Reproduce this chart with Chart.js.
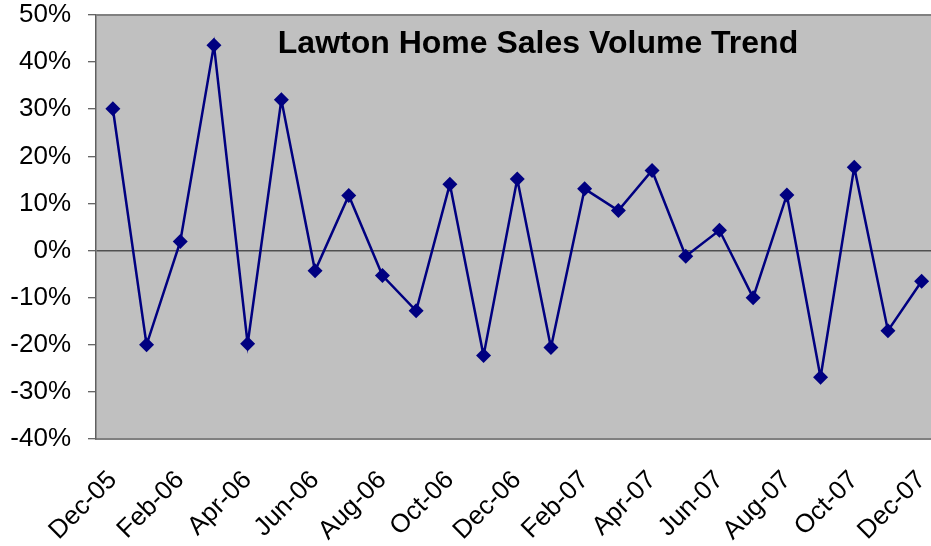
<!DOCTYPE html>
<html>
<head>
<meta charset="utf-8">
<title>Lawton Home Sales Volume Trend</title>
<script src="https://cdn.jsdelivr.net/npm/chart.js@4/dist/chart.umd.min.js"></script>
<style>
    html, body { margin: 0; padding: 0; background: #fff; overflow: hidden; }
    .chart-wrap { position: relative; width: 946px; height: 546px; }
</style>
</head>
<body>
<div class="chart-wrap"><canvas id="salesChart" width="946" height="546"></canvas></div>
<script>
// 月次ラベル
const months = ['Dec-05', 'Jan-06', 'Feb-06', 'Mar-06', 'Apr-06', 'May-06', 'Jun-06', 'Jul-06',
    'Aug-06', 'Sep-06', 'Oct-06', 'Nov-06', 'Dec-06', 'Jan-07', 'Feb-07', 'Mar-07', 'Apr-07',
    'May-07', 'Jun-07', 'Jul-07', 'Aug-07', 'Sep-07', 'Oct-07', 'Nov-07', 'Dec-07'];

// 前月比の変化率 (%)
const volumeChange = [30.1, -20.0, 1.9, 43.6, -19.8, 32.0, -4.3, 11.7, -5.3, -12.8, 14.1, -22.3,
    15.2, -20.6, 13.1, 8.5, 17.0, -1.2, 4.3, -10.0, 11.8, -26.9, 17.7, -17.0, -6.5];

const yTicks = [-40, -30, -20, -10, 0, 10, 20, 30, 40, 50];
const chartTitle = 'Lawton Home Sales Volume Trend';

// グレーの描画エリアとタイトル
const plotAreaPlugin = {
    id: 'plotArea',
    beforeDraw: function(chart) {
        const a = chart.chartArea;
        const ctx = chart.ctx;
        ctx.save();
        ctx.fillStyle = '#c0c0c0';
        ctx.fillRect(a.left, a.top, a.right - a.left, a.bottom - a.top);
        ctx.restore();
    },
    afterDraw: function(chart) {
        const a = chart.chartArea;
        const ctx = chart.ctx;
        ctx.save();
        ctx.strokeStyle = '#808080';
        ctx.lineWidth = 2;
        ctx.beginPath();
        ctx.moveTo(a.left, a.top);
        ctx.lineTo(a.right, a.top);
        ctx.stroke();
        ctx.fillStyle = '#000';
        ctx.font = 'bold 32px "Liberation Sans", Arial, sans-serif';
        ctx.textAlign = 'center';
        ctx.textBaseline = 'alphabetic';
        ctx.fillText(chartTitle, 538, 53);
        ctx.restore();
    }
};

const ctx = document.getElementById('salesChart').getContext('2d');
const salesChart = new Chart(ctx, {
    type: 'line',
    data: {
        labels: months,
        datasets: [{
            label: 'Sales Volume Change',
            data: volumeChange,
            borderColor: '#000080',
            backgroundColor: '#000080',
            borderWidth: 2.5,
            pointStyle: 'rectRot',
            pointRadius: 7.5,
            pointHoverRadius: 7.5,
            pointBorderWidth: 0,
            tension: 0
        }]
    },
    options: {
        responsive: false,
        animation: false,
        layout: { padding: { top: 15, left: 0, right: 0, bottom: 0 } },
        scales: {
            x: {
                offset: true,
                grid: { display: false, drawTicks: false },
                border: { display: true, color: '#808080', width: 2 },
                afterFit: function(scale) {
                    scale.height = 546 - 439;
                    scale.paddingLeft = 0;
                    scale.paddingRight = 0;
                },
                ticks: {
                    autoSkip: false,
                    maxRotation: 45,
                    minRotation: 45,
                    padding: 26,
                    color: '#000',
                    font: { family: '"Liberation Sans", Arial, sans-serif', size: 26 },
                    callback: function(value, index) {
                        return index % 2 === 0 ? months[index] : '';
                    }
                }
            },
            y: {
                min: -40,
                max: 50,
                afterFit: function(scale) {
                    scale.width = 96;
                    scale.paddingTop = 0;
                    scale.paddingBottom = 0;
                },
                afterBuildTicks: function(scale) {
                    scale.ticks = yTicks.map(v => ({ value: v }));
                },
                grid: {
                    drawTicks: true,
                    tickLength: 8,
                    tickColor: '#333',
                    tickWidth: 1,
                    color: function(c) {
                        return c.tick && c.tick.value === 0 ? '#505050' : 'rgba(0,0,0,0)';
                    },
                    lineWidth: 1.5
                },
                border: { display: true, color: '#606060', width: 1.5 },
                ticks: {
                    padding: 17,
                    color: '#000',
                    font: { family: '"Liberation Sans", Arial, sans-serif', size: 26 },
                    callback: function(value) {
                        return value + '%';
                    }
                }
            }
        },
        plugins: {
            legend: { display: false },
            title: { display: false },
            tooltip: {
                callbacks: {
                    label: function(context) {
                        return context.raw + '%';
                    }
                }
            }
        }
    },
    plugins: [plotAreaPlugin]
});
</script>
</body>
</html>
